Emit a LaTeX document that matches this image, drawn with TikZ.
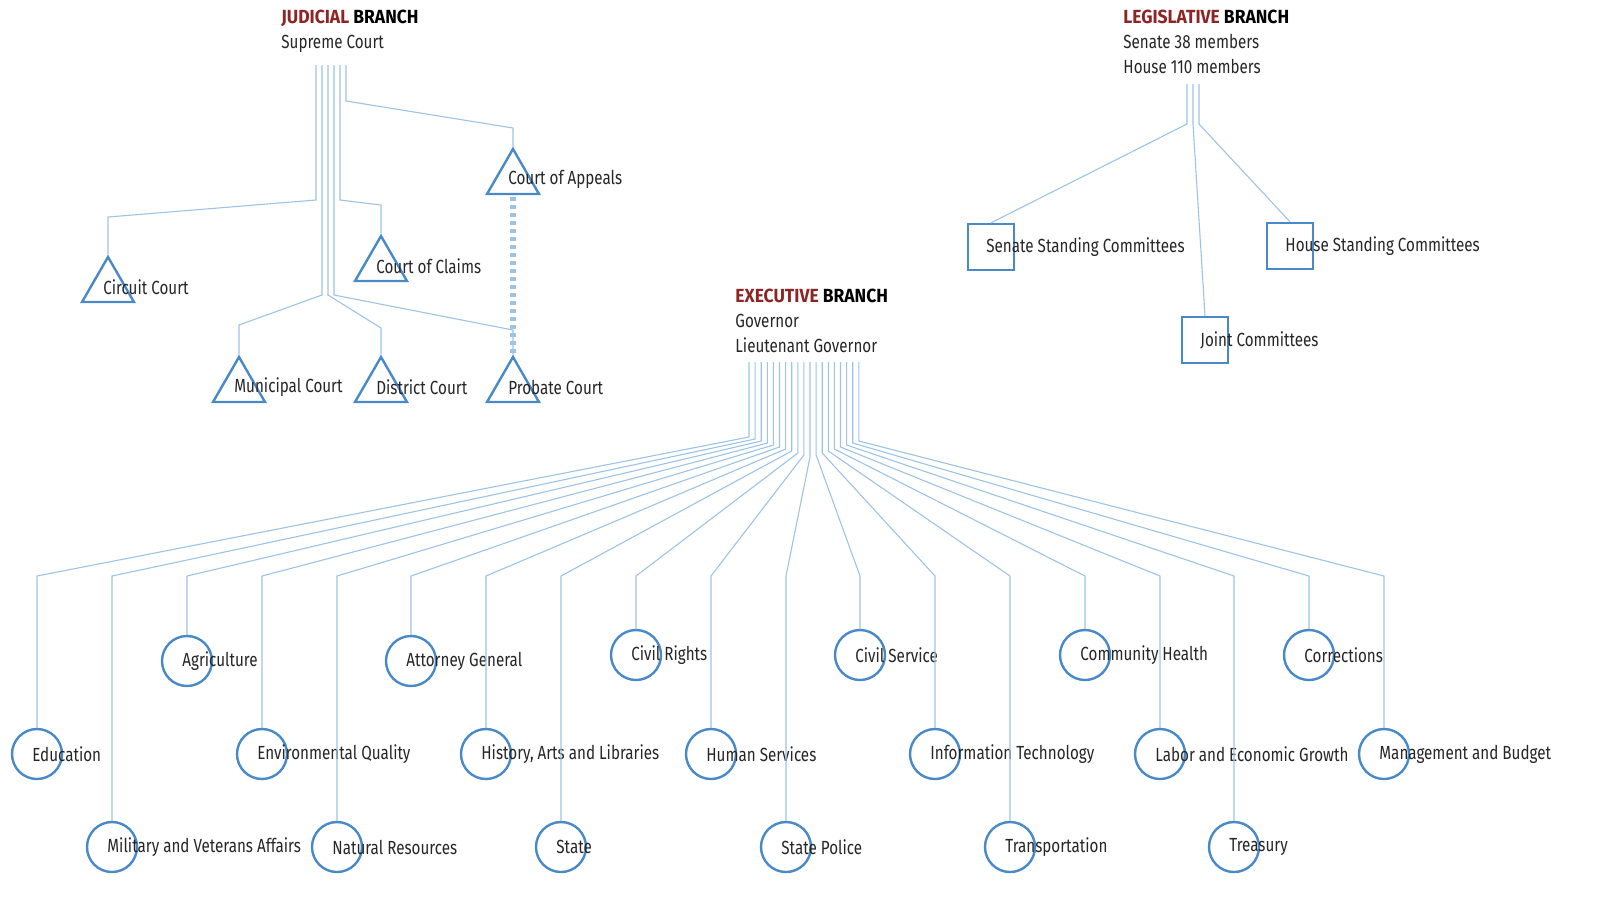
\documentclass[tikz,border=0pt]{standalone}
\usepackage{fontspec}
\setmainfont{Fira Sans}[FakeStretch=0.8]
\newfontfamily\headfont{Fira Sans}[FakeStretch=0.92]
\usetikzlibrary{shapes.geometric,positioning}

\definecolor{branchred}{HTML}{8E2424}
\definecolor{shapeblue}{HTML}{4A89C8}
\definecolor{wireblue}{HTML}{9DC3E6}

\newcommand{\branchtitle}[1]{{\headfont\bfseries\textcolor{branchred}{#1} \textcolor{black}{BRANCH}}}

\tikzset{
  wire/.style={draw=wireblue, line width=0.55pt},
  linkdash/.style={draw=wireblue, line width=2.6pt, dash pattern=on 2pt off 2pt},
  court/.style={regular polygon, regular polygon sides=3, draw=shapeblue, line width=1.2pt, minimum size=30pt, inner sep=0pt},
  cmte/.style={rectangle, draw=shapeblue, line width=1.2pt, minimum size=23pt, inner sep=0pt},
  dept/.style={circle, draw=shapeblue, line width=1.2pt, minimum size=25pt, inner sep=0pt},
  lbl/.style={anchor=west, inner sep=0pt, xshift=-2.5pt, text=black!85},
  head/.style={anchor=north west, align=left, inner sep=0pt, text=black!85},
}

\begin{document}
\begin{tikzpicture}[x=0.5pt, y=-0.5pt, font=\fontsize{9.5}{12.5}\selectfont]
        \useasboundingbox (0,0) rectangle (1610,896);

        % branch headers
        \node[head] (jud) at (281,10) {\branchtitle{JUDICIAL}\\Supreme Court};
        \node[head] (leg) at (1123,10) {\branchtitle{LEGISLATIVE}\\Senate 38 members\\House 110 members};
        \node[head] (exe) at (735,289) {\branchtitle{EXECUTIVE}\\Governor\\Lieutenant Governor};

        % judicial courts
        \node[court] (circuit) at (108,287) {};
        \node[court] (claims) at (381,266) {};
        \node[court] (appeals) at (513,179) {};
        \node[court] (municipal) at (239,387) {};
        \node[court] (district) at (381,387) {};
        \node[court] (probate) at (513,387) {};
        \node[lbl] at (circuit.center) {Circuit Court};
        \node[lbl] at (claims.center) {Court of Claims};
        \node[lbl] at (appeals.center) {Court of Appeals};
        \node[lbl] at (municipal.center) {Municipal Court};
        \node[lbl] at (district.center) {District Court};
        \node[lbl] at (probate.center) {Probate Court};

        \coordinate (j1) at (316,65);
        \coordinate (j2) at (322,65);
        \coordinate (j3) at (328,65);
        \coordinate (j4) at (334,65);
        \coordinate (j5) at (340,65);
        \coordinate (j6) at (346,65);
        \draw[wire] (j1) -- (j1 |- 0,200) -- (circuit.north |- 0,217) -- (circuit.north);
        \draw[wire] (j2) -- (j2 |- 0,295) -- (municipal.north |- 0,325) -- (municipal.north);
        \draw[wire] (j3) -- (j3 |- 0,295) -- (district.north |- 0,328) -- (district.north);
        \draw[wire] (j4) -- (j4 |- 0,295) -- (probate.north |- 0,330) -- (probate.north);
        \draw[wire] (j5) -- (j5 |- 0,200) -- (claims.north |- 0,205) -- (claims.north);
        \draw[wire] (j6) -- (j6 |- 0,101) -- (appeals.north |- 0,128) -- (appeals.north);
        \draw[linkdash] ([yshift=-1pt]appeals.south) -- (probate.north);

        % legislative committees
        \node[cmte] (senate) at (991,247) {};
        \node[cmte] (house) at (1290,246) {};
        \node[cmte] (joint) at (1205,340) {};
        \node[lbl] at (senate.center) {Senate Standing Committees};
        \node[lbl] at (house.center) {House Standing Committees};
        \node[lbl] at (joint.center) {Joint Committees};

        \coordinate (l1) at (1187,84);
        \coordinate (l2) at (1193,84);
        \coordinate (l3) at (1199,84);
        \draw[wire] (l1) -- (l1 |- 0,124) -- (senate.north);
        \draw[wire] (l2) -- (l2 |- 0,124) -- (joint.north);
        \draw[wire] (l3) -- (l3 |- 0,124) -- (house.north);

        % executive departments
        \node[dept] (edu) at (37,754) {};
        \node[dept] (mil) at (112,847) {};
        \node[dept] (agr) at (187,661) {};
        \node[dept] (env) at (262,754) {};
        \node[dept] (nat) at (337,847) {};
        \node[dept] (att) at (411,661) {};
        \node[dept] (his) at (486,754) {};
        \node[dept] (sta) at (561,847) {};
        \node[dept] (civr) at (636,655) {};
        \node[dept] (hum) at (711,754) {};
        \node[dept] (pol) at (786,847) {};
        \node[dept] (civs) at (860,655) {};
        \node[dept] (it) at (935,754) {};
        \node[dept] (tra) at (1010,847) {};
        \node[dept] (com) at (1085,655) {};
        \node[dept] (lab) at (1160,754) {};
        \node[dept] (tre) at (1234,847) {};
        \node[dept] (cor) at (1309,655) {};
        \node[dept] (man) at (1384,754) {};
        \node[lbl] at (edu.center) {Education};
        \node[lbl] at (mil.center) {Military and Veterans Affairs};
        \node[lbl] at (agr.center) {Agriculture};
        \node[lbl] at (env.center) {Environmental Quality};
        \node[lbl] at (nat.center) {Natural Resources};
        \node[lbl] at (att.center) {Attorney General};
        \node[lbl] at (his.center) {History, Arts and Libraries};
        \node[lbl] at (sta.center) {State};
        \node[lbl] at (civr.center) {Civil Rights};
        \node[lbl] at (hum.center) {Human Services};
        \node[lbl] at (pol.center) {State Police};
        \node[lbl] at (civs.center) {Civil Service};
        \node[lbl] at (it.center) {Information Technology};
        \node[lbl] at (tra.center) {Transportation};
        \node[lbl] at (com.center) {Community Health};
        \node[lbl] at (lab.center) {Labor and Economic Growth};
        \node[lbl] at (tre.center) {Treasury};
        \node[lbl] at (cor.center) {Corrections};
        \node[lbl] at (man.center) {Management and Budget};

        \foreach \i in {0,...,18}
            \coordinate (e\i) at (749+6.1*\i,362);
        \draw[wire] (e0) -- (e0 |- 0,437) -- (edu.north |- 0,576) -- (edu.north);
        \draw[wire] (e1) -- (e1 |- 0,439) -- (mil.north |- 0,576) -- (mil.north);
        \draw[wire] (e2) -- (e2 |- 0,441) -- (agr.north |- 0,576) -- (agr.north);
        \draw[wire] (e3) -- (e3 |- 0,443) -- (env.north |- 0,576) -- (env.north);
        \draw[wire] (e4) -- (e4 |- 0,445) -- (nat.north |- 0,576) -- (nat.north);
        \draw[wire] (e5) -- (e5 |- 0,447) -- (att.north |- 0,576) -- (att.north);
        \draw[wire] (e6) -- (e6 |- 0,449) -- (his.north |- 0,576) -- (his.north);
        \draw[wire] (e7) -- (e7 |- 0,451) -- (sta.north |- 0,576) -- (sta.north);
        \draw[wire] (e8) -- (e8 |- 0,453) -- (civr.north |- 0,576) -- (civr.north);
        \draw[wire] (e9) -- (e9 |- 0,455) -- (hum.north |- 0,576) -- (hum.north);
        \draw[wire] (e10) -- (e10 |- 0,457) -- (pol.north |- 0,576) -- (pol.north);
        \draw[wire] (e11) -- (e11 |- 0,455) -- (civs.north |- 0,576) -- (civs.north);
        \draw[wire] (e12) -- (e12 |- 0,453) -- (it.north |- 0,576) -- (it.north);
        \draw[wire] (e13) -- (e13 |- 0,451) -- (tra.north |- 0,576) -- (tra.north);
        \draw[wire] (e14) -- (e14 |- 0,449) -- (com.north |- 0,576) -- (com.north);
        \draw[wire] (e15) -- (e15 |- 0,447) -- (lab.north |- 0,576) -- (lab.north);
        \draw[wire] (e16) -- (e16 |- 0,445) -- (tre.north |- 0,576) -- (tre.north);
        \draw[wire] (e17) -- (e17 |- 0,443) -- (cor.north |- 0,576) -- (cor.north);
        \draw[wire] (e18) -- (e18 |- 0,441) -- (man.north |- 0,576) -- (man.north);
    \end{tikzpicture}
\end{document}
